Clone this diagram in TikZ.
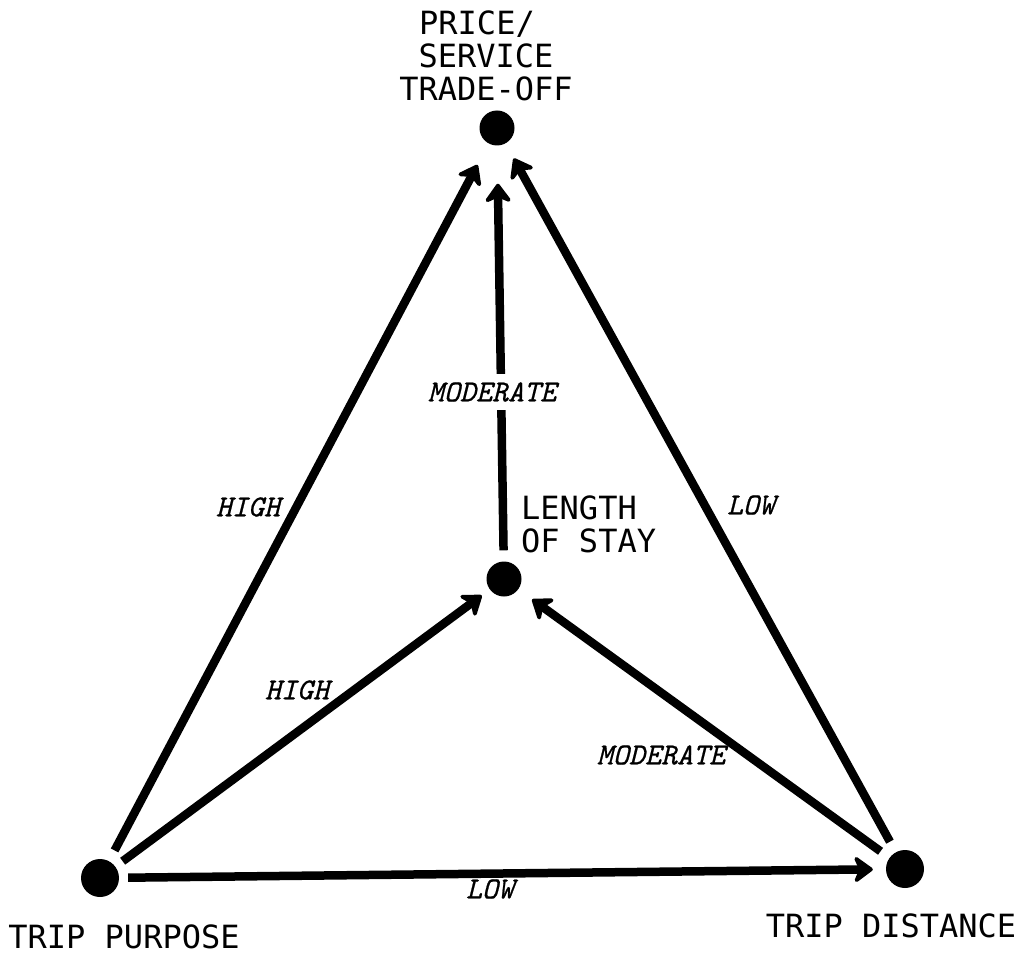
\documentclass[tikz,border=0pt]{standalone}
\usepackage{fontspec}
\newfontfamily\nodefont{DejaVu Sans Mono}
\newfontfamily\edgefont{Latin Modern Mono}[ItalicFeatures={FakeBold=0.7}]
\usetikzlibrary{arrows.meta}
\begin{document}
\begin{tikzpicture}[x=1pt,y=-1pt,
  dot/.style={circle,fill=black,minimum size=35pt,inner sep=0pt},
  arr/.style={line width=8.5pt,-{Stealth[length=22pt,width=32pt,inset=7pt,round]}},
  lbl/.style={font=\nodefont\fontsize{32}{33}\selectfont,inner sep=0pt},
  elbl/.style={font=\edgefont\itshape\fontsize{30.5}{32}\selectfont,inner sep=0pt}]
\useasboundingbox[fill=white] (0,0) rectangle (1023,960);
% nodes
\node[dot] (ps) at (497,128) {};
\node[dot] (ls) at (504,579) {};
\node[dot,minimum size=38pt] (tp) at (100,878) {};
\node[dot,minimum size=38pt] (td) at (905,869) {};
% node labels
\node[lbl,align=center] (pst) at (486,56) {PRICE/\hspace*{18pt}\\SERVICE\\TRADE-OFF};
\node[lbl,align=left,anchor=west] (lst) at (521,524) {LENGTH\\OF STAY};
\node[lbl] (tpt) at (124,937) {TRIP PURPOSE};
\node[lbl] (tdt) at (891,926) {TRIP DISTANCE};
% connectors
\draw[arr,shorten <=12pt,shorten >=24pt] (tp) -- (ps);
\draw[arr,shorten <=9pt,shorten >=10pt] (tp) -- (ls);
\draw[arr,shorten <=11pt,shorten >=38pt] (ls) -- (ps);
\draw[arr,shorten <=12pt,shorten >=17pt] (td) -- (ps);
\draw[arr,shorten <=11pt,shorten >=17pt] (td) -- (ls);
\draw[arr,shorten <=9pt,shorten >=13pt] (tp) -- (td);
% connector labels
\node[elbl] (l1) at (248,507) {HIGH};
\node[elbl] (l2) at (297,690) {HIGH};
\node[elbl,fill=white,inner xsep=2pt,inner ysep=8pt] (l3) at (492,392) {MODERATE};
\node[elbl] (l4) at (751,505) {LOW};
\node[elbl] (l5) at (661,755) {MODERATE};
\node[elbl] (l6) at (490,889) {LOW};
\end{tikzpicture}
\end{document}
